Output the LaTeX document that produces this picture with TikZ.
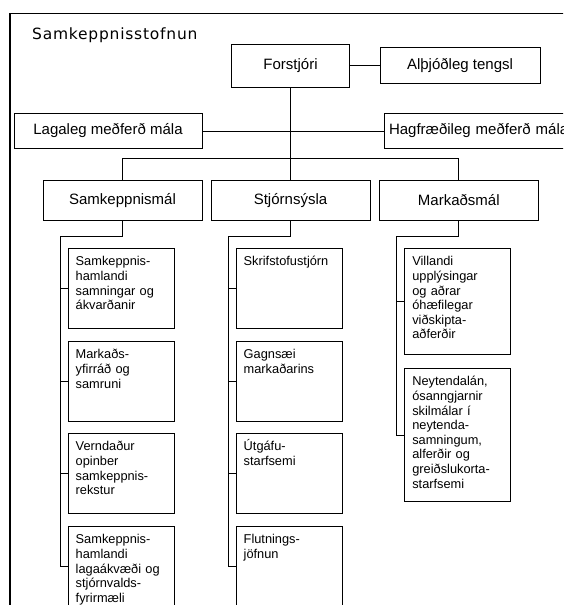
\documentclass[tikz,border=0pt]{standalone}
\usepackage{fontspec}
\setmainfont{Liberation Sans}
\newfontfamily\titlefont[LetterSpace=5]{DejaVu Sans}
\newcommand\boxfont{\fontsize{15}{18}\selectfont}
\newcommand\subboxfont{\fontsize{12.8}{14.6}\selectfont}
\tikzset{
  unitbox/.style={draw, line width=1pt, font=\boxfont, inner sep=0pt},
  subbox/.style={draw, line width=1pt, anchor=north west, font=\subboxfont,
    text width=91pt, align=left, inner xsep=7.5pt, inner ysep=8pt,
    text height=9.4pt, text depth=#1},
  link/.style={line width=1pt}
}
\begin{document}
\begin{tikzpicture}[x=1pt,y=-1pt]
\useasboundingbox (0,0) rectangle (563,605);
\clip (0,0) rectangle (563,605);

\draw[line width=1.3pt] (10,13.5) rectangle (620,650);
\node[anchor=base west, inner sep=0pt, font=\titlefont\fontsize{15.5}{18}\selectfont] (title) at (32,39.5) {Samkeppnisstofnun};

% top
\node[unitbox, minimum width=118pt, minimum height=43pt] (forstjori) at (290.5,65.6) {Forstjóri};
\node[unitbox, minimum width=160pt, minimum height=36pt] (althjod) at (460,65.6) {Alþjóðleg tengsl};
\node[unitbox, minimum width=188pt, minimum height=35pt] (lagaleg) at (108,131) {Lagaleg meðferð mála};
\node[unitbox, anchor=west, minimum width=210pt, minimum height=35pt, inner xsep=4pt, align=left, text width=200pt] (hagfr) at (383.5,131) {Hagfræðileg meðferð mála};

\draw[link] (forstjori) -- (althjod);
\draw[link] (lagaleg) -- (hagfr);

% departments
\node[unitbox, minimum width=159pt, minimum height=40pt] (samk) at (122.5,200.5) {Samkeppnismál};
\node[unitbox, minimum width=159pt, minimum height=40pt] (stjorn) at (290.5,200.5) {Stjórnsýsla};
\node[unitbox, minimum width=159pt, minimum height=40pt] (markad) at (458.8,200.5) {Markaðsmál};

\coordinate (bus) at (290.5,158.3);
\draw[link] (forstjori.south) -- (bus);
\draw[link] (samk.north) |- (bus) -| (markad.north);
\draw[link] (bus) -- (stjorn.north);

% Samkeppnismal
\node[subbox=54.6pt] (samka) at (67.7,248) {Samkeppnis-\\hamlandi\\samningar og\\ákvarðanir};
\node[subbox=54.6pt] (samkb) at (67.7,341) {Markaðs-\\yfirráð og\\samruni};
\node[subbox=54.6pt] (samkc) at (67.7,433) {Verndaður\\opinber\\samkeppnis-\\rekstur};
\node[subbox=54.6pt] (samkd) at (67.7,526) {Samkeppnis-\\hamlandi\\lagaákvæði og\\stjórnvalds-\\fyrirmæli};

% Stjornsysla
\node[subbox=54.6pt] (stjorna) at (235.7,248) {Skrifstofustjórn};
\node[subbox=54.6pt] (stjornb) at (235.7,341) {Gagnsæi\\markaðarins};
\node[subbox=54.6pt] (stjornc) at (235.7,433) {Útgáfu-\\starfsemi};
\node[subbox=54.6pt] (stjornd) at (235.7,526) {Flutnings-\\jöfnun};

% Markadsmal
\node[subbox=80.6pt] (markada) at (404.3,248) {Villandi\\upplýsingar\\og aðrar\\óhæfilegar\\viðskipta-\\aðferðir};
\node[subbox=107.6pt] (markadb) at (404.3,368) {Neytendalán,\\ósanngjarnir\\skilmálar í\\neytenda-\\samningum,\\alferðir og\\greiðslukorta-\\starfsemi};

\coordinate (samkspine) at (60,236);
\coordinate (stjornspine) at (228.3,236);
\coordinate (markadspine) at (396,236);

\draw[link] (samk.south) |- (samkspine) |- (samkd.west);
\draw[link] (stjorn.south) |- (stjornspine) |- (stjornd.west);
\draw[link] (markad.south) |- (markadspine) |- (markadb.west);
\foreach \n in {samka,samkb,samkc}
  \draw[link] (samkspine |- \n.west) -- (\n.west);
\foreach \n in {stjorna,stjornb,stjornc}
  \draw[link] (stjornspine |- \n.west) -- (\n.west);
\draw[link] (markadspine |- markada.west) -- (markada.west);

\end{tikzpicture}
\end{document}
